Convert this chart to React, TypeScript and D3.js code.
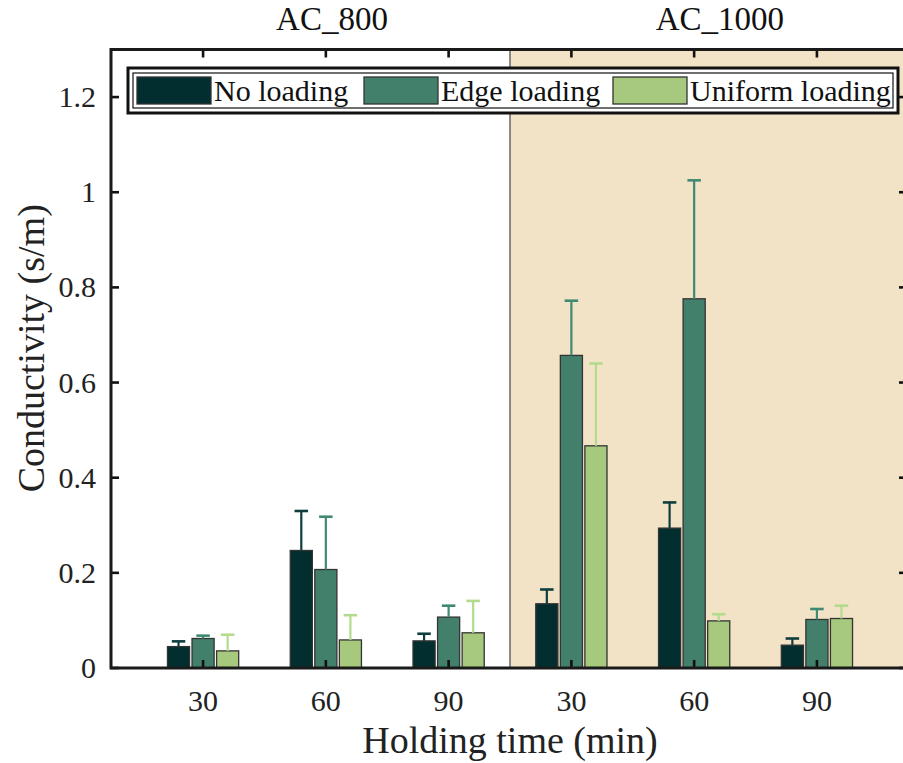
import React from "react";
import * as d3 from "d3";

const categories = ["30", "60", "90", "30", "60", "90"];
const seriesNames = ["No loading", "Edge loading", "Uniform loading"];
const noLoading = [0.045, 0.247, 0.057, 0.135, 0.294, 0.048];
const noLoadingErr = [0.011, 0.083, 0.015, 0.030, 0.054, 0.014];
const edgeLoading = [0.062, 0.207, 0.107, 0.657, 0.776, 0.102];
const edgeLoadingErr = [0.006, 0.111, 0.024, 0.115, 0.249, 0.022];
const uniformLoading = [0.036, 0.059, 0.074, 0.467, 0.099, 0.104];
const uniformLoadingErr = [0.034, 0.052, 0.067, 0.173, 0.014, 0.027];
const yTicks = [0, 0.2, 0.4, 0.6, 0.8, 1, 1.2];
const groupLabels = ["AC_800", "AC_1000"];
const groupLabelPos = [2.05, 5.21];

const fills = ["#022e2f", "#43806b", "#a7c97e"];
const errColors = ["#0f3d3d", "#3e8a72", "#b3db8e"];
const FONT = '"Liberation Serif", Tinos, "Times New Roman", Times, "DejaVu Serif", serif';

export default function App() {
  const W = 903, H = 763;
  const left = 111, right = 909, top = 49.5, bottom = 668;
  const x = d3.scaleLinear().domain([0.25, 6.75]).range([left, right]);
  const y = d3.scaleLinear().domain([0, 1.3]).range([bottom, top]);
  const series = [noLoading, edgeLoading, uniformLoading];
  const errs = [noLoadingErr, edgeLoadingErr, uniformLoadingErr];
  const offsets = [-0.2, 0, 0.2];
  const bw = 0.18;
  const capW = 0.11;
  const idx = categories.map((_, i) => i + 1);
  const ts: React.CSSProperties = { fontFamily: FONT };

  return (
    <div style={{ position: "absolute", left: 0, top: 0 }}>
      <svg width={W} height={H} style={{ display: "block", fontFamily: FONT }}>
        <rect x={0} y={0} width={W} height={H} fill="#fff" />
        <rect x={x(3.5)} y={top} width={x(6.75) - x(3.5)} height={bottom - top} fill="#f2e3c7" />
        <line x1={x(3.5)} x2={x(3.5)} y1={top} y2={bottom} stroke="#666" strokeWidth={1.5} />
        {series.map((vals, s) =>
          vals.map((v, i) => (
            <rect
              key={`b${s}-${i}`}
              x={x(idx[i] + offsets[s] - bw / 2)}
              y={y(v)}
              width={x(bw) - x(0)}
              height={y(0) - y(v)}
              fill={fills[s]}
              stroke="#333"
              strokeWidth={1.3}
            />
          ))
        )}
        {series.map((vals, s) =>
          vals.map((v, i) => {
            const cx = x(idx[i] + offsets[s]);
            const y1 = y(v);
            const y2 = y(v + errs[s][i]);
            const hw = (x(capW) - x(0)) / 2;
            return (
              <g key={`e${s}-${i}`} stroke={errColors[s]} strokeWidth={2.2}>
                <line x1={cx} x2={cx} y1={y1} y2={y2} />
                <line x1={cx - hw} x2={cx + hw} y1={y2} y2={y2} strokeWidth={2.6} />
              </g>
            );
          })
        )}
        {idx.map((c, i) => (
          <g key={`xt${i}`} stroke="#111" strokeWidth={2.6}>
            <line x1={x(c)} x2={x(c)} y1={bottom} y2={bottom - 8} />
            <line x1={x(c)} x2={x(c)} y1={top} y2={top + 8} />
          </g>
        ))}
        {yTicks.map((t, i) => (
          <g key={`yt${i}`} stroke="#111" strokeWidth={2.6}>
            <line x1={left} x2={left + 8} y1={y(t)} y2={y(t)} />
            <line x1={right} x2={right - 10} y1={y(t)} y2={y(t)} />
          </g>
        ))}
        <rect x={left} y={top} width={right - left} height={bottom - top} fill="none" stroke="#1a1a1a" strokeWidth={3} />
        {yTicks.map((t, i) => (
          <text key={`yl${i}`} x={left - 15} y={y(t) + 10} textAnchor="end" style={ts} fontSize={30} fill="#222">
            {d3.format("~g")(t)}
          </text>
        ))}
        {categories.map((c, i) => (
          <text key={`xl${i}`} x={x(idx[i])} y={bottom + 43} textAnchor="middle" style={ts} fontSize={30} fill="#222">
            {c}
          </text>
        ))}
        {groupLabels.map((g, i) => (
          <text key={`gl${i}`} x={x(groupLabelPos[i])} y={top - 20} textAnchor="middle" style={ts} fontSize={33} fill="#111">
            {g}
          </text>
        ))}
        <text x={510} y={753} textAnchor="middle" style={ts} fontSize={38} fill="#222">
          Holding time (min)
        </text>
        <text transform={`translate(44, ${y(0.672)}) rotate(-90)`} textAnchor="middle" style={ts} fontSize={38} fill="#222">
          Conductivity (s/m)
        </text>
        <g>
          <rect x={128} y={68} width={770} height={45} fill="#fff" stroke="#111" strokeWidth={3} />
          <rect x={133} y={73} width={760} height={35} fill="none" stroke="#111" strokeWidth={1.2} />
          {seriesNames.map((n, i) => {
            const px = [137, 364, 613][i];
            return (
              <g key={`lg${i}`}>
                <rect x={px} y={77} width={74} height={27} fill={fills[i]} stroke="#333" strokeWidth={1.3} />
                <text x={px + 77} y={101} style={ts} fontSize={30} fill="#111">
                  {n}
                </text>
              </g>
            );
          })}
        </g>
      </svg>
    </div>
  );
}
